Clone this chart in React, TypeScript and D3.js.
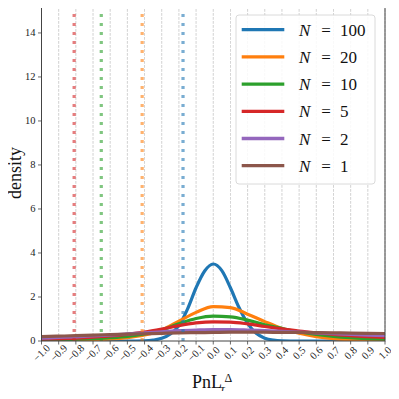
import * as d3 from "d3";
import React from "react";

// x grid of the curves (and of the x ticks)
const xGrid = [-1.0, -0.9, -0.8, -0.7, -0.6, -0.5, -0.4, -0.3, -0.2, -0.1, 0.0, 0.1, 0.2, 0.3, 0.4, 0.5, 0.6, 0.7, 0.8, 0.9, 1.0];
const xTickLabels = ["\u22121.0", "\u22120.9", "\u22120.8", "\u22120.7", "\u22120.6", "\u22120.5", "\u22120.4", "\u22120.3", "\u22120.2", "\u22120.1", "0.0", "0.1", "0.2", "0.3", "0.4", "0.5", "0.6", "0.7", "0.8", "0.9", "1.0"];
const yTicks = [0, 2, 4, 6, 8, 10, 12, 14];

// N = 100 is narrow, so it gets a finer grid
const xFine = [-1.0, -0.5, -0.4, -0.35, -0.3, -0.25, -0.2, -0.15, -0.1, -0.05, 0.0, 0.05, 0.1, 0.15, 0.2, 0.25, 0.3, 0.35, 0.4, 0.5, 1.0];
const dens100 = [0, 0, 0.01, 0.04, 0.12, 0.32, 0.7, 1.45, 2.42, 3.18, 3.5, 3.2, 2.42, 1.52, 0.8, 0.35, 0.13, 0.04, 0.01, 0, 0];

const dens20 = [0.02, 0.03, 0.04, 0.06, 0.09, 0.15, 0.27, 0.5, 0.9, 1.3, 1.56, 1.52, 1.22, 0.88, 0.57, 0.35, 0.2, 0.11, 0.06, 0.03, 0.02];
const dens10 = [0.05, 0.06, 0.08, 0.11, 0.15, 0.21, 0.32, 0.5, 0.78, 1.02, 1.13, 1.1, 0.95, 0.74, 0.57, 0.42, 0.3, 0.21, 0.15, 0.11, 0.08];
const dens5 = [0.08, 0.1, 0.13, 0.17, 0.23, 0.3, 0.4, 0.54, 0.7, 0.82, 0.87, 0.86, 0.78, 0.66, 0.55, 0.45, 0.37, 0.3, 0.24, 0.2, 0.16];
const dens2 = [0.13, 0.16, 0.19, 0.23, 0.27, 0.32, 0.37, 0.42, 0.47, 0.5, 0.52, 0.52, 0.5, 0.47, 0.44, 0.41, 0.37, 0.33, 0.3, 0.27, 0.24];
const dens1 = [0.2, 0.22, 0.24, 0.27, 0.29, 0.31, 0.33, 0.35, 0.37, 0.38, 0.39, 0.4, 0.4, 0.4, 0.39, 0.39, 0.38, 0.37, 0.36, 0.35, 0.34];

const seriesNames = ["100", "20", "10", "5", "2", "1"];
const seriesColors = ["#1f77b4", "#ff7f0e", "#2ca02c", "#d62728", "#9467bd", "#8c564b"];
// dotted vertical markers (VaR) for N = 5, 10, 20, 100
const varValues = [-0.81, -0.652, -0.414, -0.176];
const varColors = ["#d62728", "#2ca02c", "#ff7f0e", "#1f77b4"];

const FONT = "'Liberation Serif', 'DejaVu Serif', serif";

export default function App() {
  const width = 399;
  const height = 399;
  const margin = { top: 5, right: 14, bottom: 58, left: 41.5 };

  const x = d3.scaleLinear().domain([-1, 1]).range([margin.left, width - margin.right]);
  const y = d3.scaleLinear().domain([0, 15.27]).range([height - margin.bottom, margin.top]);

  const series = [
    { xs: xFine, ys: dens100 },
    { xs: xGrid, ys: dens20 },
    { xs: xGrid, ys: dens10 },
    { xs: xGrid, ys: dens5 },
    { xs: xGrid, ys: dens2 },
    { xs: xGrid, ys: dens1 },
  ];

  const pathFor = (s) => {
    const pts: [number, number][] = s.xs.map((v, i) => [x(v), y(s.ys[i])]);
    return d3.line().curve(d3.curveMonotoneX)(pts);
  };

  const x0 = x.range()[0];
  const x1 = x.range()[1];
  const yb = y.range()[0];
  const yt = y.range()[1];

  // legend
  const legX = 236;
  const legY = 15;
  const legW = 139;
  const legH = 169;
  const rowY = (i) => 29.7 + 27.2 * i;

  return (
    <div style={{ margin: -8 }}>
      <svg width={width} height={height} style={{ display: "block", background: "#fff" }}>
        <defs>
          <clipPath id="plotclip">
            <rect x={x0} y={yt} width={x1 - x0} height={yb - yt} />
          </clipPath>
        </defs>

        {/* vertical grid */}
        {xGrid.map((v, i) => (
          <line key={"g" + i} x1={x(v)} x2={x(v)} y1={yt} y2={yb} stroke="#b0b0b0" strokeWidth={0.8} strokeDasharray="2.8,1.2" opacity={0.7} />
        ))}

        {/* density curves */}
        <g clipPath="url(#plotclip)">
          {series.map((s, i) => (
            <path key={"s" + i} d={pathFor(s)} fill="none" stroke={seriesColors[i]} strokeWidth={3.2} strokeLinejoin="round" strokeLinecap="round" />
          ))}
        </g>

        {/* dotted markers */}
        {varValues.map((v, i) => (
          <line key={"v" + i} x1={x(v)} x2={x(v)} y1={yt} y2={yb} stroke={varColors[i]} strokeOpacity={0.6} strokeWidth={3.2} strokeDasharray="3,6" />
        ))}

        {/* frame */}
        <rect x={x0} y={yt} width={x1 - x0} height={yb - yt} fill="none" stroke="#444" strokeWidth={1} />

        {/* y axis */}
        {yTicks.map((t) => (
          <g key={"y" + t}>
            <line x1={x0 - 3.5} x2={x0} y1={y(t)} y2={y(t)} stroke="#444" strokeWidth={0.8} />
            <text x={x0 - 6} y={y(t)} dy="0.33em" textAnchor="end" fontFamily={FONT} fontSize={10.5} fill="#222">
              {t}
            </text>
          </g>
        ))}

        {/* x axis */}
        {xGrid.map((v, i) => (
          <g key={"x" + i}>
            <line x1={x(v)} x2={x(v)} y1={yb} y2={yb + 3.5} stroke="#444" strokeWidth={0.8} />
            <text
              transform={`translate(${x(v)},${yb + 12}) rotate(-45)`}
              textAnchor="middle"
              dy="0.33em"
              fontFamily={FONT}
              fontSize={10.5}
              fill="#222"
            >
              {xTickLabels[i]}
            </text>
          </g>
        ))}

        {/* axis labels */}
        <text x={192} y={388} fontFamily={FONT} fontSize={18} fill="#111">PnL</text>
        <text x={224.5} y={381.5} fontFamily={FONT} fontSize={12} fill="#111">{"\u0394"}</text>
        <text x={220.5} y={392.5} fontFamily={FONT} fontSize={12} fontStyle="italic" fill="#111">{"\u03c4"}</text>
        <text transform={`translate(21,${(yt + yb) / 2}) rotate(-90)`} textAnchor="middle" fontFamily={FONT} fontSize={18} fill="#111">
          density
        </text>

        {/* legend */}
        <rect x={legX} y={legY} width={legW} height={legH} rx={3} fill="#fff" fillOpacity={0.85} stroke="#d6d6d6" strokeWidth={0.9} />
        {seriesNames.map((n, i) => (
          <g key={"l" + i}>
            <line x1={241.7} x2={284.3} y1={rowY(i)} y2={rowY(i)} stroke={seriesColors[i]} strokeWidth={3.3} />
            <text x={299} y={rowY(i) + 6} fontFamily={FONT} fontSize={17} fontStyle="italic" fill="#111">N</text>
            <text x={326} y={rowY(i) + 6} textAnchor="middle" fontFamily={FONT} fontSize={17} fill="#111">=</text>
            <text x={340} y={rowY(i) + 6} fontFamily={FONT} fontSize={17} fill="#111">{n}</text>
          </g>
        ))}
      </svg>
    </div>
  );
}
